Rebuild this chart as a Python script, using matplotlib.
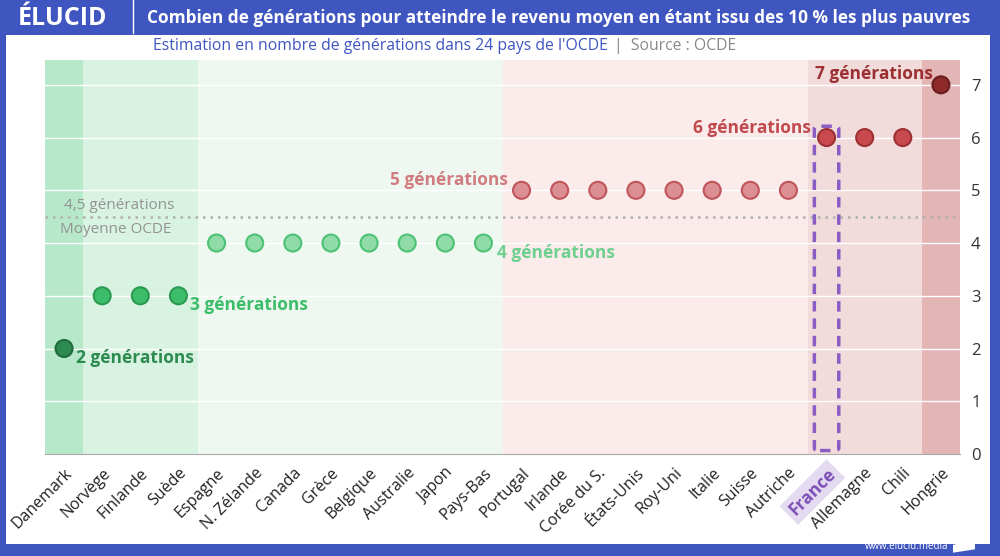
import matplotlib.pyplot as plt
from matplotlib.patches import FancyBboxPatch, Rectangle, Polygon

plt.rcParams['font.family'] = ['Open Sans', 'DejaVu Sans']

# données
pays = ['Danemark', 'Norvège', 'Finlande', 'Suède', 'Espagne', 'N. Zélande', 'Canada',
        'Grèce', 'Belgique', 'Australie', 'Japon', 'Pays-Bas', 'Portugal', 'Irlande',
        'Corée du S.', 'États-Unis', 'Roy-Uni', 'Italie', 'Suisse', 'Autriche',
        'France', 'Allemagne', 'Chili', 'Hongrie']
generations = [2, 3, 3, 3, 4, 4, 4, 4, 4, 4, 4, 4, 5, 5, 5, 5, 5, 5, 5, 5, 6, 6, 6, 7]
moyenne = 4.5

# couleurs par nombre de générations
fond = {2: '#b6e8c9', 3: '#d9f3e3', 4: '#eef8f1', 5: '#fbebeb', 6: '#f2dbdb', 7: '#e4b5b5'}
point = {2: '#2e8b50', 3: '#3dbd6a', 4: '#90dba8', 5: '#dc8f93', 6: '#c84a4e', 7: '#8e2a2c'}
bord = {2: '#1f6b3b', 3: '#2a9a52', 4: '#4cc274', 5: '#c0555b', 6: '#9c3034', 7: '#6a1c1e'}
texte = {2: '#2e8b50', 3: '#3dbd6a', 4: '#6fcf8f', 5: '#d17c80', 6: '#c04a4e', 7: '#9b2f31'}
bleu = '#3f55c0'

fig = plt.figure(figsize=(10, 5.56), dpi=100)
fig.patch.set_facecolor(bleu)
# panneau blanc
fig.patches.append(Rectangle((0.006, 0.022), 0.984, 0.915, transform=fig.transFigure,
                             facecolor='white', edgecolor='none', zorder=-5))

ax = fig.add_axes([0.045, 0.1835, 0.915, 0.7085])
ax.set_facecolor('white')

x = list(range(len(pays)))
for i, g in enumerate(generations):
    ax.axvspan(i - 0.5, i + 0.5, color=fond[g], lw=0, zorder=0)

for k in range(1, 8):
    ax.axhline(k, color='white', lw=1, zorder=1)

ax.axhline(moyenne, color='#b0b0b0', lw=1.8, ls=(0, (1, 2)), zorder=2)
ax.text(0, moyenne + 0.22, '4,5 générations', color='#939393', fontsize=11, ha='left', va='center')
ax.text(-0.1, moyenne - 0.25, 'Moyenne OCDE', color='#939393', fontsize=11, ha='left', va='center')

ax.scatter(x, generations, s=150, c=[point[g] for g in generations],
           edgecolors=[bord[g] for g in generations], linewidths=1.5, zorder=4)

# étiquettes des groupes
ax.text(0.3, 1.82, '2 générations', color=texte[2], fontsize=12.5, fontweight='bold', ha='left', va='center')
ax.text(3.3, 2.82, '3 générations', color=texte[3], fontsize=12.5, fontweight='bold', ha='left', va='center')
ax.text(11.35, 3.82, '4 générations', color=texte[4], fontsize=12.5, fontweight='bold', ha='left', va='center')
ax.text(11.65, 5.2, '5 générations', color=texte[5], fontsize=12.5, fontweight='bold', ha='right', va='center')
ax.text(19.6, 6.18, '6 générations', color=texte[6], fontsize=12.5, fontweight='bold', ha='right', va='center')
ax.text(22.8, 7.2, '7 générations', color=texte[7], fontsize=12.5, fontweight='bold', ha='right', va='center')

# cadre France
i_fr = pays.index('France')
ax.add_patch(FancyBboxPatch((i_fr - 0.27, 0.08), 0.54, 6.12,
                            boxstyle='round,pad=0.05,rounding_size=0.15',
                            facecolor='none', edgecolor='#8a5cc4', lw=2.5,
                            ls=(0, (3, 2)), zorder=3, mutation_aspect=0.3))

ax.set_xlim(-0.5, len(pays) - 0.5)
ax.set_ylim(0, 7.47)
ax.yaxis.tick_right()
ax.set_yticks(range(0, 8))
ax.tick_params(axis='y', length=0, pad=8, labelsize=12, labelcolor='#333333')
ax.set_xticks(x)
ax.set_xticklabels(pays, rotation=45, ha='right', rotation_mode='anchor',
                   fontsize=11.5, color='#222222')
ax.tick_params(axis='x', length=0, pad=8)
for lab in ax.get_xticklabels():
    if lab.get_text() == 'France':
        lab.set_color('#7d4fb8')
        lab.set_fontweight('bold')
        lab.set_fontsize(12.5)
        lab.set_bbox(dict(facecolor='#e4dbf0', edgecolor='none', pad=3))
for s in ['top', 'left', 'right']:
    ax.spines[s].set_visible(False)
ax.spines['bottom'].set_color('#aaaaaa')

# titre
fig.text(0.018, 0.967, 'ÉLUCID', color='white', fontsize=18, fontweight='bold', va='center')
fig.add_artist(plt.Line2D([0.133, 0.133], [0.94, 1.0], color='white', lw=1, transform=fig.transFigure))
fig.text(0.147, 0.967, 'Combien de générations pour atteindre le revenu moyen en étant issu des 10 % les plus pauvres',
         color='white', fontsize=12.4, fontweight='bold', va='center')
fig.text(0.608, 0.917, "Estimation en nombre de générations dans 24 pays de l'OCDE", color=bleu,
         fontsize=11.3, ha='right', va='center')
fig.text(0.614, 0.917, '|  Source : OCDE', color='#888888', fontsize=11.3, ha='left', va='center')

fig.text(0.948, 0.017, 'www.elucid.media', color='white', fontsize=7, ha='right', va='center')
fig.patches.append(Polygon([[0.953, 0.006], [0.975, 0.012], [0.975, 0.03], [0.953, 0.02]],
                           closed=True, transform=fig.transFigure, facecolor='white', edgecolor='none'))

fig.savefig('out.png', dpi=100, facecolor=fig.get_facecolor())
